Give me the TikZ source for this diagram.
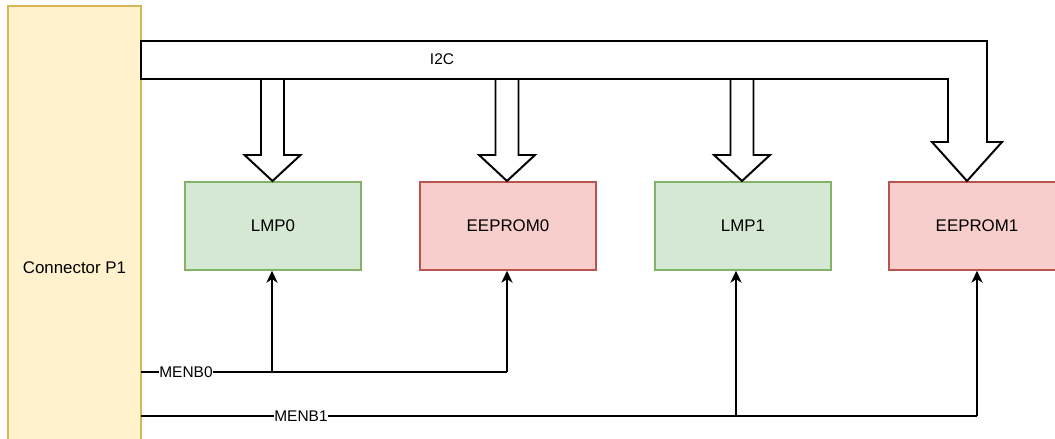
\documentclass[tikz,border=0pt]{standalone}
\usepackage{fontspec}
\setmainfont{Liberation Sans}
\usetikzlibrary{arrows.meta}

\definecolor{conyellow}{HTML}{FFF2CC}
\definecolor{conborder}{HTML}{D6B656}
\definecolor{lmpgreen}{HTML}{D5E8D4}
\definecolor{lmpborder}{HTML}{82B366}
\definecolor{eepred}{HTML}{F8CECC}
\definecolor{eepborder}{HTML}{B85450}

\tikzstyle{block} = [rectangle,minimum width=4.4cm,minimum height=2.2cm,line width=1pt,font=\fontsize{12}{14}\selectfont]
\tikzstyle{lmpblock} = [block,fill=lmpgreen,draw=lmpborder]
\tikzstyle{eepblock} = [block,fill=eepred,draw=eepborder]
\tikzstyle{signal} = [line width=1.4pt]
\tikzstyle{busarrow} = [signal,fill=white,line join=miter]
\tikzstyle{enable} = [signal,-{Stealth[length=3mm,width=2.8mm,inset=0.9mm]}]
\tikzstyle{siglabel} = [fill=white,inner sep=0.5pt,font=\fontsize{11}{13}\selectfont]

\begin{document}
\begin{tikzpicture}[x=0.025cm,y=-0.025cm]
		\useasboundingbox (0,0) rectangle (1055,439);
		\clip (0,0) rectangle (1055,439);
		\node[rectangle,fill=conyellow,draw=conborder,line width=1pt,minimum width=3.325cm,minimum height=13.1cm,font=\fontsize{12}{14}\selectfont] (conn) at (74.5,268) {Connector P1};
		\node[lmpblock] (lmp0) at (273,226) {LMP0};
		\node[eepblock] (eeprom0) at (508,226) {EEPROM0};
		\node[lmpblock] (lmp1) at (743,226) {LMP1};
		\node[eepblock] (eeprom1) at (977,226) {EEPROM1};
		% I2C bus
		\draw[busarrow] (141,41) -- (987,41) -- (987,142) -- (1002,142) -- (967,181) -- (932,142) -- (948,142) -- (948,79)
			-- (141,79) -- cycle;
		\foreach \x in {272.5,507,742}
			\draw[busarrow] (\x-11.5,79) -- (\x+11.5,79) -- (\x+11.5,155) -- (\x+28,155) -- (\x,181) -- (\x-28,155) -- (\x-11.5,155) -- cycle;
		\node[font=\fontsize{11}{13}\selectfont] (i2c) at (442,59) {I2C};
		% enable lines
		\coordinate (m0) at (141,372);
		\coordinate (m1) at (141,416);
		\coordinate (m0a) at (272,372);
		\coordinate (m0b) at (507,372);
		\coordinate (m1a) at (736,416);
		\coordinate (m1b) at (977,416);
		\draw[signal] (m0) -- (m0b);
		\draw[signal] (m1) -- (m1b);
		\draw[enable] (m0a) -- (m0a |- lmp0.south);
		\draw[enable] (m0b) -- (m0b |- eeprom0.south);
		\draw[enable] (m1a) -- (m1a |- lmp1.south);
		\draw[enable] (m1b) -- (m1b |- eeprom1.south);
		\node[siglabel] (menb0) at (186,372) {MENB0};
		\node[siglabel] (menb1) at (301,416) {MENB1};
\end{tikzpicture}
\end{document}
